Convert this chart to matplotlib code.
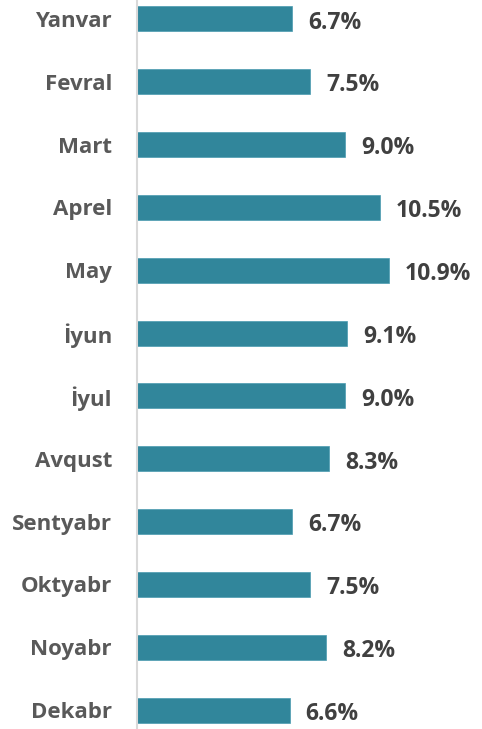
import matplotlib.pyplot as plt

# --------------------------------------
# Data
# --------------------------------------
months = ['Yanvar', 'Fevral', 'Mart', 'Aprel', 'May', 'İyun', 'İyul',
          'Avqust', 'Sentyabr', 'Oktyabr', 'Noyabr', 'Dekabr']
shares = [6.7, 7.5, 9.0, 10.5, 10.9, 9.1, 9.0, 8.3, 6.7, 7.5, 8.2, 6.6]

plt.rcParams['font.family'] = ['Open Sans', 'DejaVu Sans']

fig = plt.figure(figsize=(4.82, 7.29), dpi=100)
ax = fig.add_axes([137 / 482, 0, 1 - 137 / 482, 1])

ypos = list(range(len(months)))
ax.barh(ypos, shares, height=0.4, color='#31869B', edgecolor='#4A9BB0', linewidth=0.5)

# value labels to the right of the bars
for y, v in zip(ypos, shares):
    ax.text(v + 0.7, y + 0.06, f'{v:.1f}%', va='center', ha='left',
            fontsize=16.5, fontweight='bold', color='#404040')

ax.set_xlim(0, 14.93)
ax.set_ylim(11.3, -0.3)
ax.set_yticks(ypos)
ax.set_yticklabels(months, fontsize=16, fontweight='bold', color='#595959')
ax.tick_params(axis='y', length=0, pad=18)
ax.set_xticks([])

for s in ['top', 'right', 'bottom']:
    ax.spines[s].set_visible(False)
ax.spines['left'].set_color('#D9D9D9')
ax.spines['left'].set_linewidth(1.5)

plt.savefig('out.png', dpi=100)
